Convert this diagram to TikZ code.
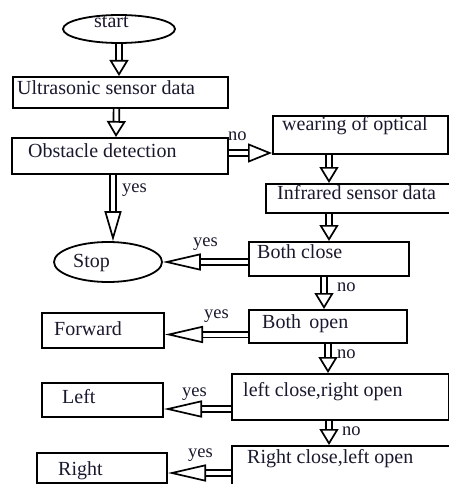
\documentclass[tikz,border=0pt]{standalone}
\usepackage{fontspec}
\setmainfont{Liberation Serif}
\usetikzlibrary{arrows.meta,shapes.geometric,calc}
\definecolor{ink}{RGB}{25,25,45}
\tikzset{
  box/.style={draw,line width=2pt,anchor=north west,inner sep=0pt},
  term/.style={draw,ellipse,line width=1.8pt,inner sep=0pt},
  txt/.style={anchor=base west,inner sep=0pt,text=ink,font=\fontsize{20}{24}\selectfont},
  lbl/.style={anchor=base west,inner sep=0pt,text=ink,font=\fontsize{18.5}{22}\selectfont},
  flow/.style={double,double distance=4pt,line width=1.7pt,
    -{Triangle[open,length=16pt,width=19pt,line width=1.7pt]}},
  longflow/.style={flow,-{Triangle[open,length=38pt,width=17pt,line width=1.7pt]}}
}

\begin{document}
\begin{tikzpicture}[x=1pt,y=-1pt]
      \useasboundingbox (0,0) rectangle (449,484);
      \clip (0,0) rectangle (449,484);

      \node[term,minimum width=112,minimum height=28] (start) at (119,29) {};
      \node[box,minimum width=215,minimum height=31] (us) at (12,76) {};
      \node[box,minimum width=216,minimum height=36] (obs) at (11,137) {};
      \node[box,minimum width=175,minimum height=38] (wear) at (272,115) {};
      \node[box,minimum width=186,minimum height=29] (ir) at (265,183) {};
      \node[term,minimum width=108,minimum height=40] (stop) at (108,262) {};
      \node[box,minimum width=160,minimum height=34] (bc) at (248,241) {};
      \node[box,minimum width=122,minimum height=35] (fwd) at (41,312) {};
      \node[box,minimum width=158,minimum height=33] (bo) at (248,309) {};
      \node[box,minimum width=121,minimum height=34] (lft) at (41,382) {};
      \node[box,minimum width=217,minimum height=46] (lc) at (231,373) {};
      \node[box,minimum width=130,minimum height=30] (rgt) at (36,452) {};
      \node[box,minimum width=222,minimum height=60] (rc) at (231,445) {};

      \node[txt] (startt) at (94,28) {start};
      \node[txt] (ust) at (17,95) {Ultrasonic sensor data};
      \node[txt] (obst) at (28,157) {Obstacle detection};
      \node[txt] (weart) at (282,131) {wearing of optical};
      \node[txt] (irt) at (277,199) {Infrared sensor data};
      \node[txt] (stopt) at (73,267) {Stop};
      \node[txt] (bct) at (257,258) {Both close};
      \node[txt] (fwdt) at (54,335) {Forward};
      \node[txt] (bot) at (262,328) {Both\ \,open};
      \node[txt] (lftt) at (62,403) {Left};
      \node[txt] (lct) at (243,396) {left close,right open};
      \node[txt] (rgtt) at (58,475) {Right};
      \node[txt] (rct) at (247,463) {Right close,left open};

      \node[lbl] (no1) at (228,140) {no};
      \node[lbl] (yes1) at (122,192) {yes};
      \node[lbl] (yes2) at (193,246) {yes};
      \node[lbl] (no2) at (337,291) {no};
      \node[lbl] (yes3) at (204,318) {yes};
      \node[lbl] (no3) at (337,358) {no};
      \node[lbl] (yes4) at (182,396) {yes};
      \node[lbl] (no4) at (342,435) {no};
      \node[lbl] (yes5) at (188,457) {yes};

      \coordinate (tip1) at ([yshift=2pt]wear.south west);
      \coordinate (tip2) at ([xshift=5pt]stop.north);
      \coordinate (tail4) at ($(lc.south west)!.25!(lc.north west)$);

      \draw[flow] (start.south) -- (us.north -| start.south);
      \draw[flow] ([xshift=-4pt]us.south) -- ([xshift=-4pt]obs.north);
      \draw[flow,-{Triangle[open,length=24pt,width=19pt,line width=1.7pt]}] (obs.east |- tip1) -- (tip1);
      \draw[longflow,-{Triangle[open,length=30pt,width=17pt,line width=1.7pt]}] (obs.south -| tip2) -- (tip2);
      \draw[flow] (wear.south -| bc.north) -- (ir.north -| bc.north);
      \draw[flow] (ir.south -| bc.north) -- (bc.north);
      \draw[longflow] (bc.west |- stop.east) -- (stop.east);
      \draw[flow] ([xshift=-5pt]bc.south) -- ([xshift=-4pt]bo.north);
      \draw[longflow] ([yshift=-4pt]fwd.east -| bo.west) -- ([yshift=-4pt]fwd.east);
      \draw[flow] (bo.south) -- (lc.north -| bo.south);
      \draw[longflow] (tail4) -- (tail4 -| lft.east);
      \draw[flow] (lc.south -| bc.north) -- (rc.north -| bc.north);
      \draw[longflow] ([yshift=-5pt]rgt.east -| rc.west) -- ([yshift=-5pt]rgt.east);
\end{tikzpicture}
\end{document}
